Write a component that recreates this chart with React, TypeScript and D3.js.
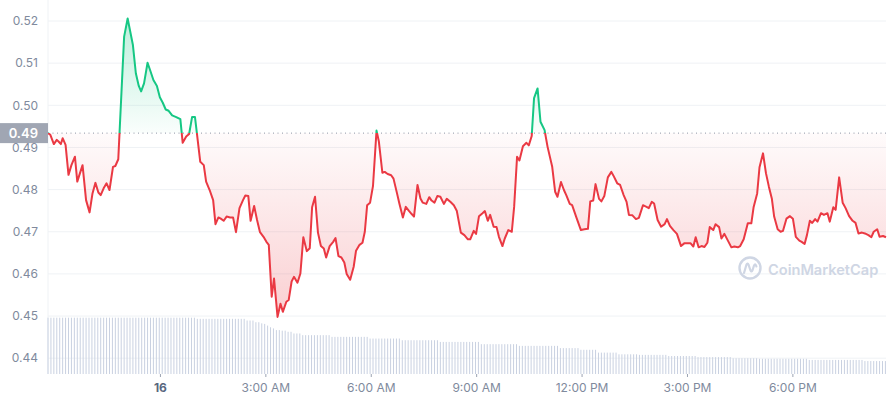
import React from 'react';
import * as d3 from 'd3';

// Price series: minutes relative to 16 00:00, and price in USD
const priceMinutes = [
  -192, -188, -182, -177, -174, -170, -167, -162, -157, -152, -146, -142, -133, -127, -121, -116,
  -111, -106, -102, -97, -92, -87, -81, -77, -72, -62, -56, -47, -42, -37, -33, -28,
  -22, -18, -12, -6, -1, 4, 9, 14, 20, 27, 34, 38, 44, 49, 54, 59,
  68, 74, 78, 84, 90, 94, 99, 103, 108, 113, 119, 124, 129, 135, 141, 145,
  150, 154, 160, 165, 170, 176, 181, 185, 190, 194, 200, 205, 209, 215, 219, 224,
  228, 234, 239, 244, 250, 255, 259, 264, 269, 274, 279, 283, 289, 295, 299, 304,
  309, 314, 318, 324, 330, 334, 340, 345, 349, 353, 358, 363, 369, 373, 379, 383,
  388, 394, 398, 404, 408, 414, 419, 424, 429, 433, 439, 444, 448, 454, 459, 463,
  468, 473, 478, 484, 489, 495, 501, 506, 513, 519, 525, 529, 535, 539, 544, 550,
  554, 559, 563, 569, 574, 578, 584, 588, 594, 600, 604, 609, 613, 619, 625, 629,
  634, 638, 644, 649, 656, 661, 669, 674, 678, 684, 689, 693, 699, 703, 711, 718,
  724, 730, 734, 739, 743, 749, 753, 758, 764, 770, 774, 780, 785, 791, 796, 800,
  806, 812, 817, 824, 830, 834, 839, 843, 849, 855, 861, 865, 870, 876, 882, 889,
  895, 900, 905, 910, 914, 919, 924, 929, 934, 938, 944, 948, 954, 958, 963, 969,
  975, 980, 986, 990, 996, 1003, 1009, 1013, 1019, 1023, 1029, 1034, 1039, 1044, 1048, 1054,
  1059, 1063, 1069, 1075, 1080, 1085, 1091, 1095, 1100, 1104, 1109, 1113, 1118, 1122, 1128, 1133,
  1139, 1143, 1149, 1153, 1159, 1165, 1170, 1176, 1182, 1187, 1192, 1198, 1203, 1209, 1214, 1218,
  1224, 1228, 1234, 1239,
];

const priceValues = [
  0.4934, 0.4930, 0.4908, 0.4918, 0.4914, 0.4908, 0.4922, 0.4906, 0.4835, 0.4858, 0.4878, 0.4819, 0.4858, 0.4775, 0.4746, 0.4791,
  0.4816, 0.4793, 0.4787, 0.4803, 0.4815, 0.4799, 0.4854, 0.4856, 0.4872, 0.5163, 0.5206, 0.5143, 0.5076, 0.5046, 0.5033, 0.5052,
  0.5101, 0.5085, 0.5060, 0.5046, 0.5019, 0.5006, 0.4990, 0.4987, 0.4976, 0.4972, 0.4967, 0.4911, 0.4926, 0.4932, 0.4972, 0.4972,
  0.4866, 0.4858, 0.4819, 0.4799, 0.4775, 0.4718, 0.4734, 0.4731, 0.4726, 0.4736, 0.4734, 0.4734, 0.4699, 0.4756, 0.4775, 0.4786,
  0.4785, 0.4726, 0.4761, 0.4728, 0.4699, 0.4688, 0.4676, 0.4669, 0.4546, 0.4589, 0.4498, 0.4529, 0.4510, 0.4534, 0.4538, 0.4582,
  0.4593, 0.4579, 0.4601, 0.4687, 0.4654, 0.4661, 0.4758, 0.4783, 0.4698, 0.4666, 0.4660, 0.4639, 0.4666, 0.4676, 0.4685, 0.4642,
  0.4639, 0.4627, 0.4600, 0.4586, 0.4617, 0.4655, 0.4669, 0.4674, 0.4700, 0.4763, 0.4769, 0.4809, 0.4940, 0.4914, 0.4840, 0.4842,
  0.4837, 0.4834, 0.4826, 0.4791, 0.4767, 0.4734, 0.4759, 0.4750, 0.4742, 0.4736, 0.4811, 0.4779, 0.4769, 0.4766, 0.4782, 0.4774,
  0.4769, 0.4785, 0.4783, 0.4766, 0.4778, 0.4771, 0.4763, 0.4750, 0.4698, 0.4692, 0.4682, 0.4682, 0.4702, 0.4695, 0.4737, 0.4744,
  0.4749, 0.4726, 0.4740, 0.4712, 0.4711, 0.4688, 0.4666, 0.4684, 0.4704, 0.4700, 0.4759, 0.4878, 0.4869, 0.4903, 0.4911, 0.4905,
  0.4927, 0.5017, 0.5040, 0.4961, 0.4941, 0.4902, 0.4854, 0.4795, 0.4783, 0.4818, 0.4799, 0.4787, 0.4766, 0.4763, 0.4731, 0.4704,
  0.4706, 0.4707, 0.4772, 0.4774, 0.4813, 0.4778, 0.4772, 0.4785, 0.4829, 0.4842, 0.4832, 0.4815, 0.4811, 0.4787, 0.4771, 0.4740,
  0.4739, 0.4730, 0.4733, 0.4763, 0.4759, 0.4756, 0.4771, 0.4767, 0.4728, 0.4712, 0.4718, 0.4730, 0.4714, 0.4704, 0.4695, 0.4666,
  0.4673, 0.4673, 0.4673, 0.4665, 0.4687, 0.4663, 0.4666, 0.4664, 0.4674, 0.4711, 0.4704, 0.4718, 0.4711, 0.4684, 0.4695, 0.4679,
  0.4663, 0.4665, 0.4663, 0.4666, 0.4682, 0.4720, 0.4720, 0.4759, 0.4791, 0.4853, 0.4886, 0.4839, 0.4807, 0.4779, 0.4736, 0.4706,
  0.4700, 0.4702, 0.4731, 0.4737, 0.4731, 0.4688, 0.4679, 0.4676, 0.4671, 0.4692, 0.4726, 0.4721, 0.4730, 0.4724, 0.4744, 0.4740,
  0.4744, 0.4724, 0.4758, 0.4752, 0.4829, 0.4769, 0.4756, 0.4737, 0.4726, 0.4721, 0.4696, 0.4698, 0.4696, 0.4692, 0.4687, 0.4700,
  0.4706, 0.4688, 0.4690, 0.4687,
];

// Volume bars (relative units), one every 5 minutes from the first price time
const volumeStartMinute = -192;
const volumeStepMinutes = 5;
const volumeValues = [
  100, 100, 100, 100, 100, 100, 100, 100, 100, 100,
  100, 100, 100, 100, 100, 100, 100, 100, 100, 100,
  100, 100, 100, 100, 100, 100, 100, 100, 100, 100,
  100, 100, 100, 100, 100, 100, 100, 100, 100, 100,
  100, 100, 100, 100, 100, 100, 100, 100, 100, 100,
  100,
  98, 98, 98, 98, 98, 98, 98, 98, 98, 98, 98, 98, 98, 98, 98, 98, 98,
  95, 95, 95, 92, 92, 90, 89, 86, 83, 81, 78, 78, 77, 77, 75, 75, 72, 72, 72,
  69, 69, 69, 69, 69, 69, 69, 69, 69, 69,
  66, 66, 66, 66, 66, 66, 66, 66, 66, 66, 66, 66, 66,
  63, 63, 63, 63, 63, 63, 63, 63, 63, 63, 63,
  60, 60, 60, 60, 60, 60, 60, 60, 60, 60, 60, 60, 60,
  57, 57, 57, 57, 57, 57, 57, 57, 57, 57, 57, 57, 57, 57,
  53, 53, 53, 53, 53, 53, 53, 53, 53, 53, 53, 53, 53,
  50, 50, 50, 50, 50, 50, 50, 50, 50, 50, 50, 50, 50, 50,
  46, 46, 46, 46, 46, 46, 46,
  43, 43, 43, 43, 43, 43,
  38, 38, 38, 38, 38, 38, 38,
  35, 35, 35, 35, 35, 35, 35,
  34, 34, 34, 34, 34, 34, 34, 34, 34, 34,
  32, 32, 32, 32, 32, 32, 32, 32, 32, 32,
  30, 30, 30, 30, 30, 30, 30, 30, 30, 30, 30, 30,
  28, 28, 28, 28, 28, 28, 28, 28, 28,
  27, 27, 27, 27, 27, 27, 27, 27, 27, 27, 27, 27, 27, 27, 27, 27, 27,
  25, 25, 25, 25, 25, 25, 25, 25, 25, 25, 25, 25, 25, 25, 25, 25, 25, 25, 25,
  23, 23, 23, 23, 23, 23, 23, 23,
];

const yTicks = [0.44, 0.45, 0.46, 0.47, 0.48, 0.49, 0.5, 0.51, 0.52];
const xTickMinutes = [0, 180, 360, 540, 720, 900, 1080];
const xTickLabels = ['16', '3:00 AM', '6:00 AM', '9:00 AM', '12:00 PM', '3:00 PM', '6:00 PM'];

const GREEN = '#16c784';
const RED = '#ea3943';
const FONT = 'Inter, "Noto Sans", sans-serif';

export default function App() {
  const W = 888;
  const H = 400;
  const plotLeft = 48;
  const plotRight = 886;
  const axisBottom = 374;

  const x = d3
    .scaleLinear()
    .domain([priceMinutes[0], priceMinutes[priceMinutes.length - 1]])
    .range([plotLeft, plotRight]);
  const y = d3.scaleLinear().domain([0.44, 0.52]).range([358.2, 21]);
  const vy = d3.scaleLinear().domain([0, 100]).range([axisBottom, 317.7]);

  const baseValue = priceValues[0];
  const by = y(baseValue);

  const pts: [number, number][] = priceMinutes.map((m, i) => [m, priceValues[i]]);
  const line = d3
    .line<[number, number]>()
    .x((d) => x(d[0]))
    .y((d) => y(d[1]));
  const area = d3
    .area<[number, number]>()
    .x((d) => x(d[0]))
    .y0(by)
    .y1((d) => y(d[1]));

  const linePath = line(pts) || '';
  const areaPath = area(pts) || '';

  return (
    <svg
      width={W}
      height={H}
      style={{ position: 'absolute', left: 0, top: 0, background: '#fff' }}
      fontFamily={FONT}
    >
      <defs>
        <clipPath id="clipAbove">
          <rect x={0} y={0} width={W} height={by} />
        </clipPath>
        <clipPath id="clipBelow">
          <rect x={0} y={by} width={W} height={H - by} />
        </clipPath>
        <linearGradient id="gGreen" gradientUnits="userSpaceOnUse" x1={0} x2={0} y1={y(0.52)} y2={by}>
          <stop offset="0%" stopColor={GREEN} stopOpacity={0.28} />
          <stop offset="100%" stopColor={GREEN} stopOpacity={0.02} />
        </linearGradient>
        <linearGradient id="gRed" gradientUnits="userSpaceOnUse" x1={0} x2={0} y1={by} y2={y(0.45)}>
          <stop offset="0%" stopColor={RED} stopOpacity={0.02} />
          <stop offset="100%" stopColor={RED} stopOpacity={0.24} />
        </linearGradient>
      </defs>

      {/* horizontal grid */}
      {yTicks.map((t) => (
        <line key={'g' + t} x1={plotLeft} x2={plotRight} y1={y(t)} y2={y(t)} stroke="#eff2f5" strokeWidth={1} />
      ))}
      <line x1={plotLeft} x2={plotLeft} y1={0} y2={axisBottom} stroke="#eff2f5" strokeWidth={1} />

      {/* volume bars */}
      {volumeValues.map((v, i) => {
        const xv = x(volumeStartMinute + i * volumeStepMinutes);
        return (
          <rect key={'v' + i} x={xv - 0.5} y={vy(v)} width={1} height={axisBottom - vy(v)} fill="#c9d1e1" />
        );
      })}

      {/* watermark */}
      <g>
        <circle cx={750} cy={268} r={10.5} fill="none" stroke="#cfd6e4" strokeWidth={2.4} />
        <path
          d="M744,273 L746.5,264.5 Q747.5,262.5 748.6,264.8 L750.5,270.5 Q751.5,272.5 752.6,270 L754,265.5 Q755.5,263 756.4,266.5"
          fill="none"
          stroke="#cfd6e4"
          strokeWidth={2.2}
          strokeLinecap="round"
          strokeLinejoin="round"
        />
        <text x={768} y={274.5} fontSize={14.6} fontWeight={600} fill="#cfd6e4" fontFamily={FONT}>
          CoinMarketCap
        </text>
      </g>

      {/* areas */}
      <path d={areaPath} fill="url(#gGreen)" clipPath="url(#clipAbove)" />
      <path d={areaPath} fill="url(#gRed)" clipPath="url(#clipBelow)" />

      {/* baseline */}
      <line x1={plotLeft} x2={plotRight} y1={by} y2={by} stroke="#8d95a5" strokeWidth={1} strokeDasharray="1 3.5" />

      {/* lines */}
      <path d={linePath} fill="none" stroke={GREEN} strokeWidth={2} strokeLinejoin="round" clipPath="url(#clipAbove)" />
      <path d={linePath} fill="none" stroke={RED} strokeWidth={2} strokeLinejoin="round" clipPath="url(#clipBelow)" />

      {/* y tick labels */}
      {yTicks.map((t) => (
        <text key={'y' + t} x={38} y={y(t)} dy="0.35em" textAnchor="end" fontSize={12} fill="#808a9d">
          {t.toFixed(2)}
        </text>
      ))}

      {/* baseline label */}
      <rect x={0} y={by - 10} width={plotLeft} height={20} fill="#a0a6b3" />
      <text x={38} y={by} dy="0.35em" textAnchor="end" fontSize={13} fontWeight={600} fill="#fff">
        {baseValue.toFixed(2)}
      </text>

      {/* x axis ticks */}
      {xTickMinutes.map((m, i) => (
        <g key={'x' + m}>
          <line x1={x(m)} x2={x(m)} y1={axisBottom} y2={axisBottom + 3} stroke="#9aa2b1" strokeWidth={1} />
          <text
            x={x(m)}
            y={388}
            dy="0.35em"
            textAnchor="middle"
            fontSize={12}
            fontWeight={i === 0 ? 700 : 400}
            fill={i === 0 ? '#58667e' : '#808a9d'}
          >
            {xTickLabels[i]}
          </text>
        </g>
      ))}
    </svg>
  );
}
